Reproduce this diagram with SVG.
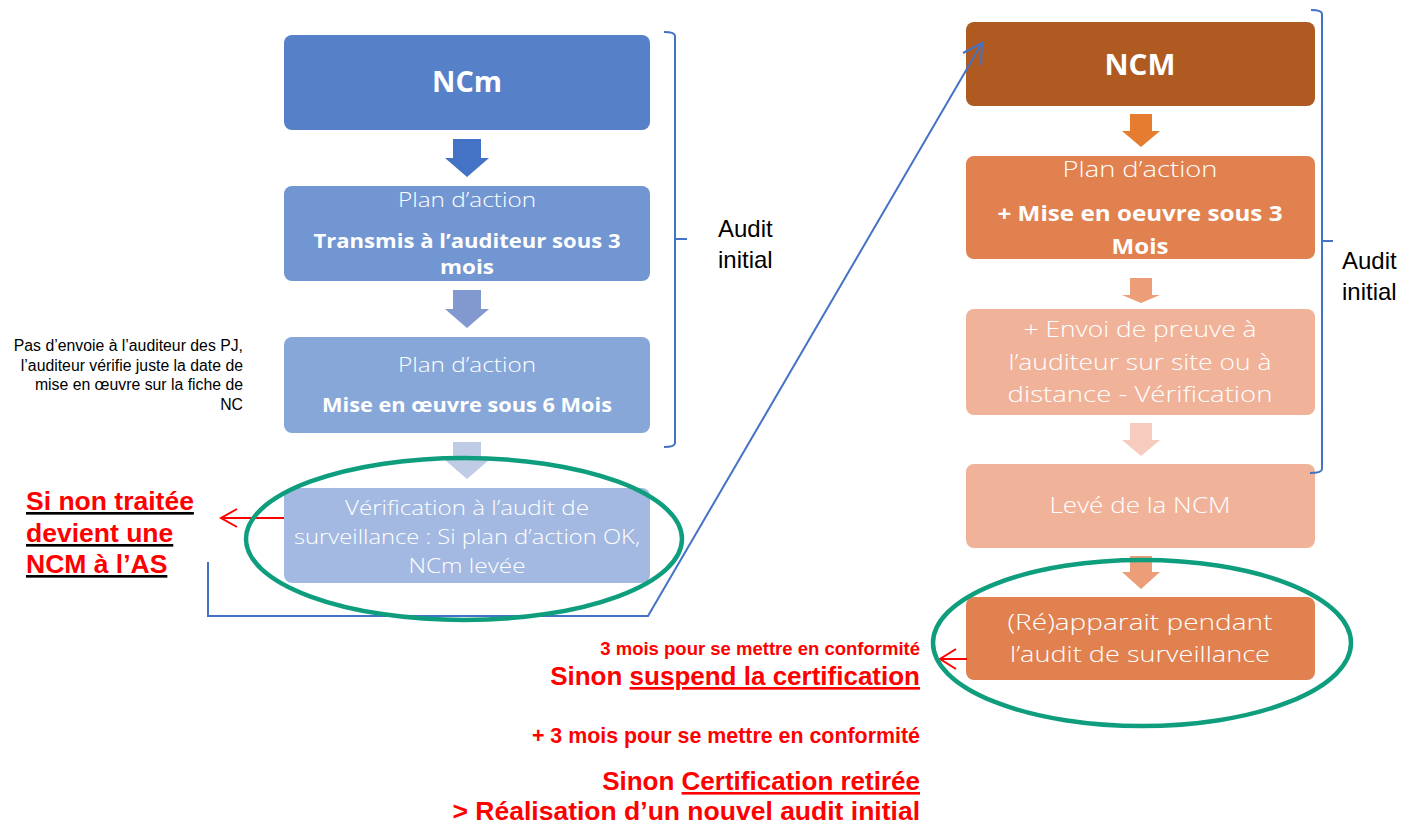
<svg xmlns="http://www.w3.org/2000/svg" width="1404" height="824" viewBox="0 0 1404 824">
<style>
.bx{font-family:"Open Sans","Noto Sans",sans-serif;fill:#fff;text-anchor:middle}
.lt{font-weight:300;font-size:21px}
.bd{font-weight:700;font-size:19px}
.ttl{font-weight:700;font-size:28px}
.blk{font-family:"Liberation Sans",Arial,sans-serif;fill:#000}
.red{font-family:"Liberation Sans",Arial,sans-serif;fill:#ff0000;font-weight:700;text-anchor:end}
.brace{fill:none;stroke:#4472C4;stroke-width:2}
.ell{fill:none;stroke:#0F9E7D;stroke-width:4.5}
.rl{fill:none;stroke:#ff0000;stroke-width:2}
</style>
<rect width="1404" height="824" fill="#fff"/>

<g id="left-ncm"><rect x="284" y="35" width="366" height="95" rx="8" fill="#5681C9"/><text class="bx ttl" x="467" y="92" textLength="70" lengthAdjust="spacingAndGlyphs">NCm</text></g>
<g id="left-plan1"><rect x="284" y="186" width="366" height="95" rx="8" fill="#7296D2"/>
<text class="bx lt" x="467" y="207" textLength="138" lengthAdjust="spacingAndGlyphs">Plan d’action</text>
<text class="bx bd" x="467" y="248" textLength="307" lengthAdjust="spacingAndGlyphs">Transmis à l’auditeur sous 3</text>
<text class="bx bd" x="467" y="274" textLength="54" lengthAdjust="spacingAndGlyphs">mois</text></g>
<g id="left-plan2"><rect x="284" y="337" width="366" height="96" rx="8" fill="#88A7D9"/>
<text class="bx lt" x="467" y="372" textLength="138" lengthAdjust="spacingAndGlyphs">Plan d’action</text>
<text class="bx bd" x="467" y="412" textLength="290" lengthAdjust="spacingAndGlyphs">Mise en œuvre sous 6 Mois</text></g>
<g id="left-verif"><rect x="284" y="488" width="366" height="95" rx="8" fill="#A3B9E1"/>
<text class="bx lt" x="467" y="515" style="font-size:19.5px" textLength="244" lengthAdjust="spacingAndGlyphs">Vérification à l’audit de</text>
<text class="bx lt" x="467" y="544" style="font-size:19.5px" textLength="346" lengthAdjust="spacingAndGlyphs">surveillance : Si plan d’action OK,</text>
<text class="bx lt" x="467" y="573" style="font-size:19.5px" textLength="117" lengthAdjust="spacingAndGlyphs">NCm levée</text></g>

<g id="right-ncm"><rect x="966" y="22" width="349" height="84" rx="8" fill="#AE5A21"/><text class="bx ttl" x="1140" y="75" textLength="71" lengthAdjust="spacingAndGlyphs">NCM</text></g>
<g id="right-plan"><rect x="966" y="156" width="349" height="103" rx="8" fill="#E1814F"/>
<text class="bx lt" x="1140" y="177" style="font-size:22px" textLength="155" lengthAdjust="spacingAndGlyphs">Plan d’action</text>
<text class="bx bd" x="1140" y="221" style="font-size:21px" textLength="285" lengthAdjust="spacingAndGlyphs">+ Mise en oeuvre sous 3</text>
<text class="bx bd" x="1140" y="254" style="font-size:21px" textLength="57" lengthAdjust="spacingAndGlyphs">Mois</text></g>
<g id="right-envoi"><rect x="966" y="309" width="349" height="106" rx="8" fill="#F0B39A"/>
<text class="bx lt" x="1140" y="337" style="font-size:22px" textLength="233" lengthAdjust="spacingAndGlyphs">+ Envoi de preuve à</text>
<text class="bx lt" x="1140" y="370" style="font-size:22px" textLength="263" lengthAdjust="spacingAndGlyphs">l’auditeur sur site ou à</text>
<text class="bx lt" x="1140" y="402" style="font-size:22px" textLength="265" lengthAdjust="spacingAndGlyphs">distance - Vérification</text></g>
<g id="right-leve"><rect x="966" y="464" width="349" height="84" rx="8" fill="#F0B39A"/>
<text class="bx lt" x="1140" y="513" style="font-size:22px" textLength="181" lengthAdjust="spacingAndGlyphs">Levé de la NCM</text></g>
<g id="right-reapp"><rect x="966" y="597" width="349" height="83" rx="8" fill="#E1814F"/>
<text class="bx lt" x="1140" y="630" style="font-size:22px" textLength="265" lengthAdjust="spacingAndGlyphs">(Ré)apparait pendant</text>
<text class="bx lt" x="1140" y="662" style="font-size:22px" textLength="260" lengthAdjust="spacingAndGlyphs">l’audit de surveillance</text></g>

<g id="connectors">
<polygon points="453,139 481,139 481,158 489,158 467,177 445,158 453,158" fill="#4472C4"/>
<polygon points="453,290 481,290 481,309 489,309 467,328 445,309 453,309" fill="#8299CF"/>
<polygon points="453,442 481,442 481,460 489,460 467,479 445,460 453,460" fill="#C0CBE6"/>
<polygon points="1130,114 1152,114 1152,131 1160,131 1141,147 1122,131 1130,131" fill="#E57C2F"/>
<polygon points="1130,278 1152,278 1152,295 1160,295 1141,303 1122,295 1130,295" fill="#EC9E79"/>
<polygon points="1130,423 1152,423 1152,440 1160,440 1141,456 1122,440 1130,440" fill="#F5CCBE"/>
<polygon points="1130,556 1152,556 1152,572 1160,572 1141,589 1122,572 1130,572" fill="#EC9E79"/>
<polyline points="208,562 208,616 648,616 982,43" fill="none" stroke="#4472C4" stroke-width="2"/>
<polyline points="963,53 982,43 981,65" fill="none" stroke="#4472C4" stroke-width="2"/>
<path class="rl" d="M284,518 H221 M237,509 L221,518 L237,527"/>
<path class="rl" d="M967,659 H940 M956,649 L940,659 L956,669"/>
</g>

<g id="brace-left"><path class="brace" d="M664,32 Q675,32 675,36 V239 H687 M675,239 V443 Q675,447 664,447"/></g>
<g id="brace-right"><path class="brace" d="M1311,10 Q1322,10 1322,14 V241 H1333 M1322,241 V469 Q1322,473 1310,473"/></g>
<text class="blk" x="718" y="237" font-size="24">Audit</text>
<text class="blk" x="718" y="268" font-size="24">initial</text>
<text class="blk" x="1342" y="269" font-size="24">Audit</text>
<text class="blk" x="1342" y="300" font-size="24">initial</text>

<g id="note" class="blk" font-size="15.8" text-anchor="end">
<text x="243" y="351">Pas d’envoie à l’auditeur des PJ,</text>
<text x="243" y="371">l’auditeur vérifie juste la date de</text>
<text x="243" y="390">mise en œuvre sur la fiche de</text>
<text x="243" y="410">NC</text>
</g>

<ellipse class="ell" cx="464" cy="539" rx="218" ry="81"/>
<ellipse class="ell" cx="1142" cy="643" rx="209" ry="83"/>

<g id="red-left" font-size="26.5" style="text-decoration:underline">
<text class="red" x="26" y="510" style="text-anchor:start">Si non traitée</text>
<text class="red" x="26" y="542" style="text-anchor:start">devient une</text>
<text class="red" x="26" y="573" style="text-anchor:start">NCM à l’AS</text>
</g>
<g id="red-right">
<text class="red" x="920" y="655" font-size="18.5">3 mois pour se mettre en conformité</text>
<text class="red" x="920" y="685" font-size="26">Sinon <tspan style="text-decoration:underline">suspend la certification</tspan></text>
<text class="red" x="920" y="743" font-size="21.4">+ 3 mois pour se mettre en conformité</text>
<text class="red" x="920" y="790" font-size="26">Sinon <tspan style="text-decoration:underline">Certification retirée</tspan></text>
<text class="red" x="920" y="820" font-size="26.5">&gt; Réalisation d’un nouvel audit initial</text>
</g>
</svg>
